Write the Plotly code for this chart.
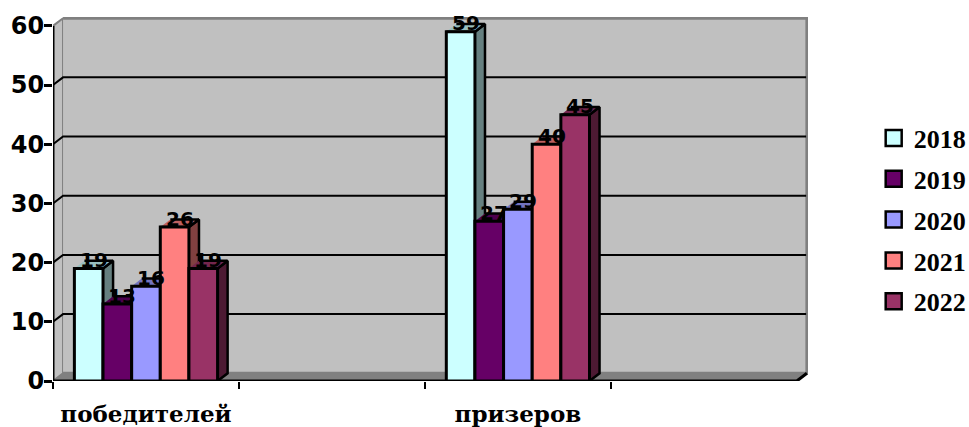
import plotly.graph_objects as go

categories = ["победителей", "\u00a0", "призеров", "\u00a0\u00a0"]
years = ["2018", "2019", "2020", "2021", "2022"]
v2018 = [19, None, 59, None]
v2019 = [13, None, 27, None]
v2020 = [16, None, 29, None]
v2021 = [26, None, 40, None]
v2022 = [19, None, 45, None]
series = [v2018, v2019, v2020, v2021, v2022]
y_ticks = [0, 10, 20, 30, 40, 50, 60]

front = ["#CCFFFF", "#660066", "#9999FF", "#FF8080", "#993366"]
top = ["#99BFBF", "#4D004D", "#7373BF", "#BF6060", "#73264D"]
side = ["#668080", "#330033", "#4D4D80", "#804040", "#4D1A33"]

DX, DY = 0.054, 1.3
GAP = 0.23
XMIN, XMAX, YMAX = -0.5, 3.5, 60
bw = (1 - GAP) / len(series)
font_num = "DejaVu Sans"
font_txt = "DejaVu Serif"
font_leg = "Liberation Serif"

fig = go.Figure()


def poly(xs, ys, fill, line="#000000", w=2.5):
    fig.add_trace(go.Scatter(x=xs, y=ys, mode="lines", fill="toself", fillcolor=fill,
                             line=dict(color=line, width=w), showlegend=False,
                             hoverinfo="skip", cliponaxis=False, xaxis="x", yaxis="y"))


def seg(xs, ys, color="#000000", w=2):
    fig.add_trace(go.Scatter(x=xs, y=ys, mode="lines", line=dict(color=color, width=w),
                             showlegend=False, hoverinfo="skip", cliponaxis=False,
                             xaxis="x", yaxis="y"))


# side wall, back wall, floor
poly([XMIN, XMIN + DX, XMIN + DX, XMIN], [0, DY, YMAX + DY, YMAX], "#C0C0C0", "#808080", 2)
poly([XMIN + DX, XMAX + DX, XMAX + DX, XMIN + DX], [DY, DY, YMAX + DY, YMAX + DY], "#C0C0C0", "#808080", 3)
poly([XMIN, XMAX, XMAX + DX, XMIN + DX], [0, 0, DY, DY], "#808080", "#808080", 1)

# gridlines on the walls
for t in y_ticks[1:-1]:
    seg([XMIN, XMIN + DX, XMAX + DX - 0.004], [t, t + DY, t + DY], "#000000", 2)

# axes
seg([XMIN, XMIN], [0, YMAX], "#000000", 3)
seg([XMIN, XMAX, XMAX + DX], [0, 0, DY], "#000000", 3)

# depth faces of the columns
for j, vals in enumerate(series):
    for c, v in enumerate(vals):
        if v is None:
            continue
        x0 = c - (1 - GAP) / 2 + j * bw
        x1 = x0 + bw
        poly([x1, x1 + DX, x1 + DX, x1], [0, DY, v + DY, v], side[j])
        poly([x0, x1, x1 + DX, x0 + DX], [v, v, v + DY, v + DY], top[j])

# legend entries
for name, col in zip(years, front):
    fig.add_trace(go.Scatter(x=[None], y=[None], mode="markers", name=name, legendgroup=name,
                             marker=dict(symbol="square", size=16, color=col,
                                         line=dict(color="#000000", width=2.5)),
                             xaxis="x", yaxis="y"))

# front faces of the columns
for name, vals, col in zip(years, series, front):
    fig.add_trace(go.Bar(x=categories, y=vals, name=name, legendgroup=name, showlegend=False,
                         marker=dict(color=col, line=dict(color="#000000", width=3)),
                         cliponaxis=False, xaxis="x2", yaxis="y2"))

# value labels centred over the top faces
annotations = []
for j, vals in enumerate(series):
    for c, v in enumerate(vals):
        if v is None:
            continue
        annotations.append(dict(
            x=c - (1 - GAP) / 2 + (j + 0.5) * bw + DX / 2, y=v, xref="x", yref="y",
            text=str(v), showarrow=False, yanchor="middle", xanchor="center", yshift=8.5,
            font=dict(family=font_num, size=20, color="#000000", weight="bold")))

y_range = [0, 61.5]
x_range = [XMIN, 3.56]
fig.update_layout(
    width=969, height=427, autosize=False,
    margin=dict(l=53, r=160.8, t=17, b=46, pad=0, autoexpand=False),
    paper_bgcolor="#FFFFFF", plot_bgcolor="#FFFFFF",
    barmode="group", bargap=GAP, bargroupgap=0,
    annotations=annotations,
    xaxis=dict(type="linear", range=x_range, visible=True, showticklabels=False,
               tickmode="array", tickvals=[i - 0.5 for i in range(len(categories))],
               ticks="outside", ticklen=7, tickwidth=2, tickcolor="#000000",
               showgrid=False, zeroline=False, showline=False, fixedrange=True),
    yaxis=dict(range=y_range, tickvals=y_ticks, ticks="outside", ticklen=8, tickwidth=3,
               tickcolor="#000000", showgrid=False, zeroline=False, showline=False,
               ticklabelstandoff=-5,
               tickfont=dict(family=font_num, size=24, color="#000000", weight="bold"),
               fixedrange=True),
    xaxis2=dict(type="category", categoryorder="array", categoryarray=categories,
                overlaying="x", anchor="y2", side="bottom", range=x_range,
                ticks="", showgrid=False, zeroline=False, showline=False,
                ticklabelstandoff=17,
                tickfont=dict(family=font_txt, size=23, color="#000000", weight="bold"),
                fixedrange=True),
    yaxis2=dict(overlaying="y", anchor="x2", range=y_range, visible=False, fixedrange=True),
    legend=dict(x=1.087, y=0.442, xanchor="left", yanchor="middle", traceorder="grouped",
                tracegroupgap=4, itemsizing="trace", bgcolor="rgba(0,0,0,0)",
                font=dict(family=font_leg, size=26, color="#000000", weight="bold")),
)

fig.write_html("out.html", default_width="969px", default_height="427px",
               config={"displayModeBar": False},
               post_script="document.body.style.margin='0';")
